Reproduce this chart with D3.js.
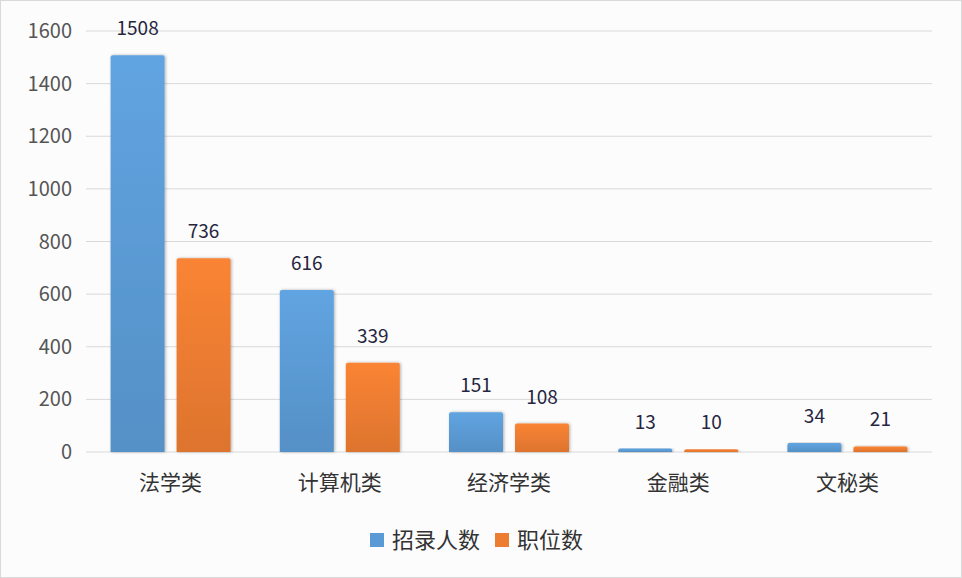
<!DOCTYPE html>
<html><head><meta charset="utf-8">
<script src="https://cdn.jsdelivr.net/npm/d3@7"></script>
<style>body{margin:0;background:#fff}svg{font-family:"Noto Sans CJK SC","Noto Sans",sans-serif}</style>
</head><body><svg id="chart" width="962" height="578"></svg>
<script>
const categories = ['法学类', '计算机类', '经济学类', '金融类', '文秘类'];
const seriesNames = ['招录人数', '职位数'];
const recruits = [1508, 616, 151, 13, 34];
const positions = [736, 339, 108, 10, 21];
const yTicks = [0, 200, 400, 600, 800, 1000, 1200, 1400, 1600];
const colors = ['#5b9bd5', '#ed7d31'];

const svg = d3.select('#chart');
const margin = {top: 31, right: 30, bottom: 126, left: 86};
const width = 962 - margin.left - margin.right;
const height = 578 - margin.top - margin.bottom;

svg.append('rect').attr('x', 0.5).attr('y', 0.5).attr('width', 961).attr('height', 577)
    .attr('fill', '#fcfcfd').attr('stroke', '#d9d9d9');

const defs = svg.append('defs');
colors.forEach((c, i) => {
    const g = defs.append('linearGradient').attr('id', 'g' + i)
        .attr('x1', 0).attr('y1', 0).attr('x2', 0).attr('y2', 1);
    g.append('stop').attr('offset', 0).attr('stop-color', d3.color(c).brighter(0.15));
    g.append('stop').attr('offset', 1).attr('stop-color', d3.color(c).darker(0.2));
});
const f = defs.append('filter').attr('id', 'sh').attr('x', '-20%').attr('width', '140%');
f.append('feDropShadow').attr('dx', 1).attr('dy', 0).attr('stdDeviation', 1.5).attr('flood-opacity', 0.3);

const g = svg.append('g').attr('transform', `translate(${margin.left},${margin.top})`);
const x = d3.scaleBand().domain(categories).range([0, width]).paddingInner(0).paddingOuter(0);
const y = d3.scaleLinear().domain([0, 1600]).range([height, 0]);

g.selectAll('.grid').data(yTicks).join('line')
    .attr('x1', 0).attr('x2', width).attr('y1', d => y(d)).attr('y2', d => y(d))
    .attr('stroke', '#d9d9d9');

g.selectAll('.ytick').data(yTicks).join('text')
    .attr('x', -14).attr('y', d => y(d)).attr('dy', '0.35em')
    .attr('text-anchor', 'end').attr('font-size', 20).attr('fill', '#555').text(d => d);

const barW = 54, gap = 12;
const series = [recruits, positions];
series.forEach((vals, si) => {
    const bx = (c) => x(c) + x.bandwidth() / 2 + (si === 0 ? -gap / 2 - barW : gap / 2);
    g.selectAll('.bar' + si).data(categories).join('path')
        .attr('fill', `url(#g${si})`).attr('filter', 'url(#sh)')
        .attr('d', (c, i) => {
            const x0 = bx(c), y0 = y(vals[i]), h = height - y0, r = Math.min(2, h);
            return `M${x0},${height}V${y0 + r}Q${x0},${y0} ${x0 + r},${y0}H${x0 + barW - r}Q${x0 + barW},${y0} ${x0 + barW},${y0 + r}V${height}Z`;
        });
    g.selectAll('.lab' + si).data(categories).join('text')
        .attr('x', c => bx(c) + barW / 2).attr('y', (c, i) => y(vals[i]) - 20)
        .attr('text-anchor', 'middle').attr('font-size', 19).attr('fill', '#262640')
        .text((c, i) => vals[i]);
});

g.selectAll('.xtick').data(categories).join('text')
    .attr('x', c => x(c) + x.bandwidth() / 2).attr('y', height + 38)
    .attr('text-anchor', 'middle').attr('font-size', 21).attr('fill', '#333').text(c => c);

const legend = svg.append('g').attr('transform', 'translate(370,540)');
const lx = [0, 125];
seriesNames.forEach((n, i) => {
    legend.append('rect').attr('x', lx[i]).attr('y', -7).attr('width', 14).attr('height', 14).attr('fill', colors[i]);
    legend.append('text').attr('x', lx[i] + 22).attr('y', 0).attr('dy', '0.36em')
        .attr('font-size', 22).attr('fill', '#333').text(n);
});
</script></body></html>
